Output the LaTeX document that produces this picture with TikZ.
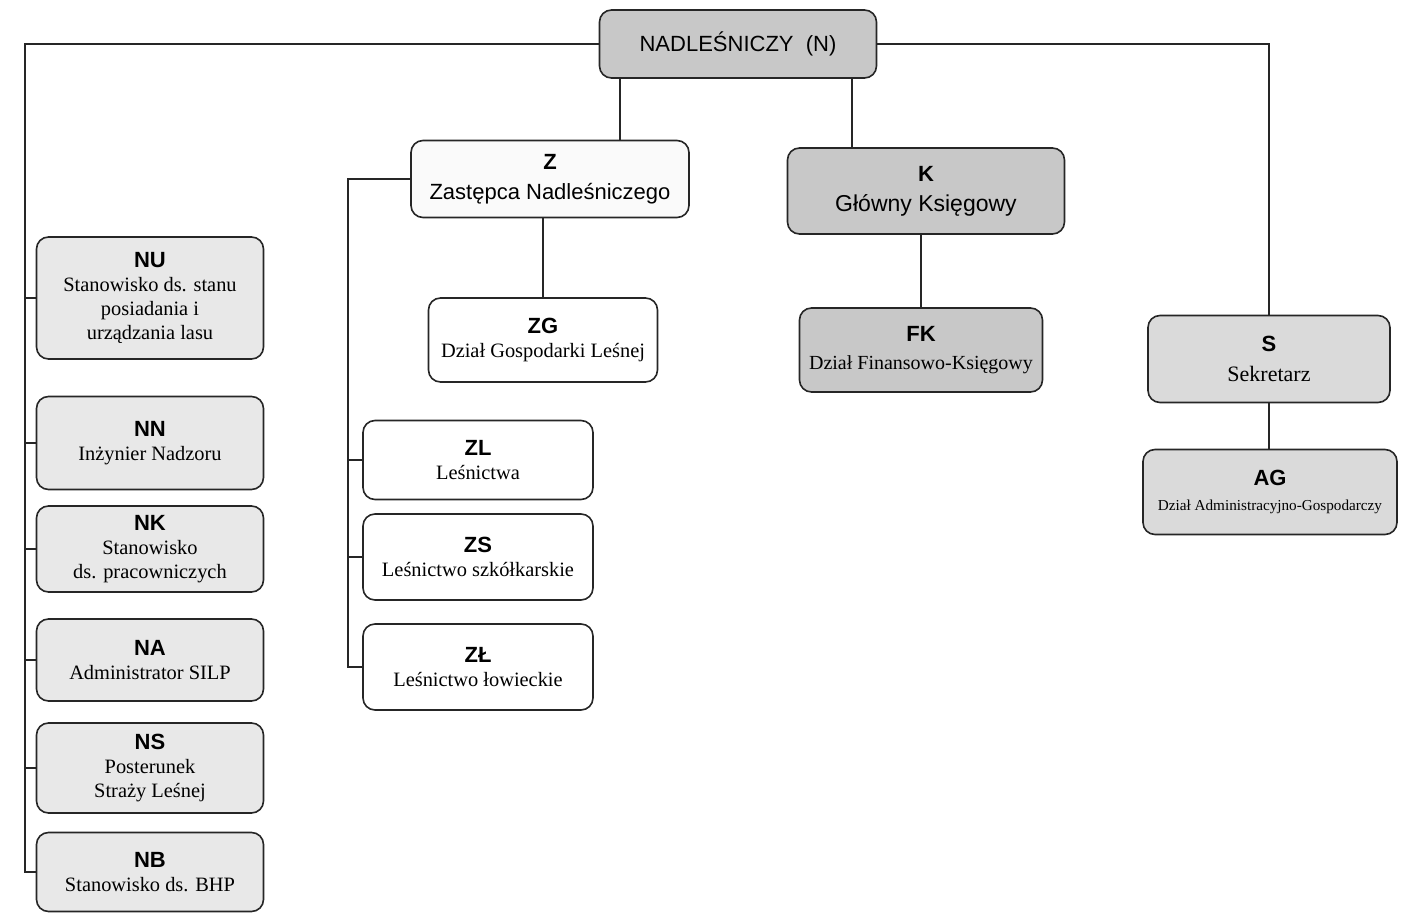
\documentclass[tikz,border=0pt]{standalone}
\usepackage{fontspec}
\setmainfont{Liberation Serif}
\setsansfont{Liberation Sans}
\definecolor{szaryC}{RGB}{200,200,200}
\definecolor{szaryS}{RGB}{218,218,218}
\definecolor{szaryJ}{RGB}{232,232,232}
\definecolor{bialy}{RGB}{250,250,250}
\newcommand{\kod}[1]{{\fontsize{11}{12}\selectfont\sffamily\bfseries #1}}
\tikzset{
	jedn/.style={draw=black!85, line width=0.8pt, rounded corners=6pt, align=center, inner sep=2pt, font=\fontsize{10.2}{12}\selectfont},
	pol/.style={line width=0.8pt, draw=black!85},
}
\begin{document}
\begin{tikzpicture}[x=0.5pt,y=0.5pt,yscale=-1]
	\useasboundingbox (0,0) rectangle (1404,915);
	
	\node[jedn, fill=szaryC, minimum width=138.5pt, minimum height=34pt, font=\fontsize{11}{13}\selectfont\sffamily] (N) at (738,44) {NADLEŚNICZY\ \ (N)};
	
	\node[jedn, fill=bialy, minimum width=139pt, minimum height=38.5pt, font=\fontsize{11}{15}\selectfont] (Z) at (550,179) {{\fontsize{12}{12}\selectfont\kod{Z}}\\{\sffamily Zastępca Nadleśniczego}};
	\node[jedn, fill=szaryC, minimum width=138.5pt, minimum height=43pt, font=\fontsize{11.5}{15}\selectfont] (K) at (926,191) {{\fontsize{12}{12}\selectfont\kod{K}}\\{\sffamily Główny Księgowy}};
	
	\node[jedn, fill=white, minimum width=114.5pt, minimum height=42pt] (ZG) at (543,340) {\kod{ZG}\\Dział Gospodarki Leśnej};
	\node[jedn, fill=szaryC, minimum width=121.5pt, minimum height=42pt, font=\fontsize{10}{14}\selectfont] (FK) at (921,350) {\kod{FK}\\Dział Finansowo-Księgowy};
	\node[jedn, fill=szaryS, minimum width=121pt, minimum height=43.5pt, font=\fontsize{11}{15}\selectfont] (S) at (1269,359) {\kod{S}\\Sekretarz};
	\node[jedn, fill=szaryS, minimum width=127pt, minimum height=42.5pt, font=\fontsize{7.6}{12.5}\selectfont] (AG) at (1270,492) {\kod{AG}\\Dział Administracyjno-Gospodarczy};
	
	\node[jedn, fill=white, minimum width=115pt, minimum height=39.5pt] (ZL) at (478,460) {\kod{ZL}\\Leśnictwa};
	\node[jedn, fill=white, minimum width=115pt, minimum height=43pt] (ZS) at (478,557) {\kod{ZS}\\Leśnictwo szkółkarskie};
	\node[jedn, fill=white, minimum width=115pt, minimum height=43pt] (ZLow) at (478,667) {\kod{ZŁ}\\Leśnictwo łowieckie};
	
	\node[jedn, fill=szaryJ, minimum width=113.5pt, minimum height=61pt] (NU) at (150,298) {\kod{NU}\\Stanowisko ds. stanu\\posiadania i\\urządzania lasu};
	\node[jedn, fill=szaryJ, minimum width=113.5pt, minimum height=46.5pt] (NN) at (150,443) {\kod{NN}\\Inżynier Nadzoru};
	\node[jedn, fill=szaryJ, minimum width=113.5pt, minimum height=43pt] (NK) at (150,549) {\kod{NK}\\Stanowisko\\ds. pracowniczych};
	\node[jedn, fill=szaryJ, minimum width=113.5pt, minimum height=41pt] (NA) at (150,660) {\kod{NA}\\Administrator SILP};
	\node[jedn, fill=szaryJ, minimum width=113.5pt, minimum height=45pt] (NS) at (150,768) {\kod{NS}\\Posterunek\\Straży Leśnej};
	\node[jedn, fill=szaryJ, minimum width=113.5pt, minimum height=39.5pt] (NB) at (150,872) {\kod{NB}\\Stanowisko ds. BHP};
	
	\coordinate (lewa) at (25,0);
	\coordinate (srodek) at (348,0);
	\coordinate (nz) at (620,0);
	\coordinate (nk) at (852,0);
	
	% linie od nadlesniczego
	\draw[pol] (N.west) -| (lewa |- NB.west) -- (NB.west);
	\foreach \n in {NU,NN,NK,NA,NS}
		\draw[pol] (lewa |- \n.west) -- (\n.west);
	\draw[pol] (N.south -| nz) -- (Z.north -| nz);
	\draw[pol] (N.south -| nk) -- (K.north -| nk);
	\draw[pol] (N.east) -| (S.north);
	
	% zastepca
	\draw[pol] (Z.west) -| (srodek |- ZLow.west) -- (ZLow.west);
	\foreach \n in {ZL,ZS}
		\draw[pol] (srodek |- \n.west) -- (\n.west);
	\draw[pol] (Z.south -| ZG.north) -- (ZG.north);
	
	\draw[pol] (K.south -| FK.north) -- (FK.north);
	\draw[pol] (S.south) -- (AG.north -| S.south);
	
\end{tikzpicture}
\end{document}
